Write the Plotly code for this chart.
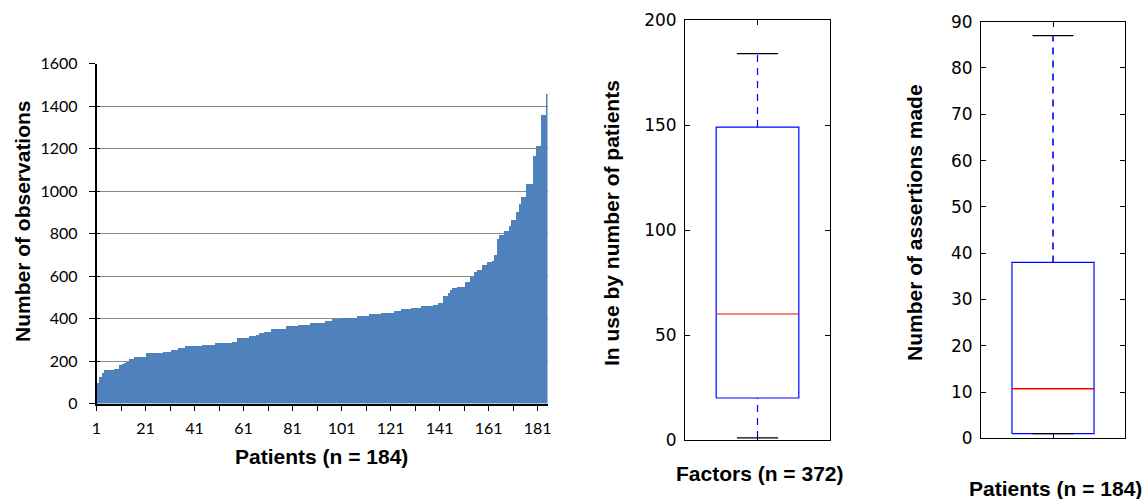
import plotly.graph_objects as go

W, H = 1148, 499

# ---- Data ----
observations = [
    98, 126, 145, 161, 161, 161, 161, 167, 167, 183,
    190, 194, 200, 213, 213, 222, 222, 222, 222, 222,
    239, 239, 239, 239, 239, 239, 239, 247, 247, 247,
    255, 255, 255, 263, 263, 263, 272, 272, 272, 272,
    272, 272, 272, 278, 278, 278, 278, 278, 286, 286,
    286, 286, 286, 286, 286, 294, 294, 310, 310, 310,
    310, 310, 318, 318, 318, 327, 333, 333, 341, 341,
    341, 355, 355, 355, 355, 355, 355, 365, 365, 365,
    365, 365, 373, 373, 373, 373, 373, 382, 382, 382,
    382, 382, 382, 390, 390, 390, 398, 398, 398, 406,
    406, 406, 406, 406, 406, 406, 414, 414, 414, 414,
    414, 422, 422, 422, 422, 422, 430, 430, 430, 430,
    430, 437, 437, 437, 446, 446, 446, 446, 454, 454,
    454, 454, 462, 462, 462, 462, 462, 467, 467, 475,
    475, 506, 506, 521, 537, 547, 547, 550, 550, 550,
    573, 573, 600, 600, 619, 631, 631, 652, 652, 667,
    667, 675, 699, 777, 793, 793, 816, 816, 840, 864,
    864, 903, 942, 975, 975, 1033, 1033, 1033, 1165, 1216,
    1216, 1358, 1358, 1460,
]
patients = list(range(1, len(observations) + 1))
bar_tick_labels = ["1", "21", "41", "61", "81", "101", "121", "141", "161", "181"]
bar_y_ticks = [0, 200, 400, 600, 800, 1000, 1200, 1400, 1600]

# box stats: lower whisker, Q1, median, Q3, upper whisker
factors_stats = [1, 20, 60, 149, 184]
assertions_stats = [1, 1, 10.7, 38, 87]
factors_y_ticks = [0, 50, 100, 150, 200]
assertions_y_ticks = [0, 10, 20, 30, 40, 50, 60, 70, 80, 90]

BAR_COLOR = "#4f81bd"
TITLE_FONT = dict(family="Liberation Sans, Arial, sans-serif", size=21, color="black", weight="bold")


def px_x(p):
    return p / W


def px_y(p):
    return 1 - p / H


fig = go.Figure()

# ---- Bar chart ----
fig.add_trace(go.Bar(
    x=patients, y=observations, marker=dict(color=BAR_COLOR, line=dict(width=0)),
    xaxis="x", yaxis="y", showlegend=False, hoverinfo="x+y",
))

# x tick positions at the left edge of each 10th patient
tick_pos = [p - 0.5 for p in patients[::10]]
tick_txt = [str(p) if str(p) in bar_tick_labels else "" for p in patients[::10]]


def box_traces(stats, xa, ya, lw_=1.2):
    lw, q1, med, q3, uw = stats
    c, hb, hc = 1.0, 0.285, 0.142
    blue, red = "#0000ff", "#ff0000"
    tr = []
    tr.append(go.Scatter(x=[c, c], y=[q3, uw], mode="lines",
                         line=dict(color=blue, width=lw_, dash="7px,6px")))
    tr.append(go.Scatter(x=[c, c], y=[lw, q1], mode="lines",
                         line=dict(color=blue, width=lw_, dash="7px,6px")))
    tr.append(go.Scatter(x=[c - hb, c + hb, c + hb, c - hb, c - hb], y=[q1, q1, q3, q3, q1],
                         mode="lines", line=dict(color=blue, width=1.2)))
    tr.append(go.Scatter(x=[c - hc, c + hc], y=[uw, uw], mode="lines",
                         line=dict(color="black", width=1.2)))
    tr.append(go.Scatter(x=[c - hc, c + hc], y=[lw, lw], mode="lines",
                         line=dict(color="black", width=1.2)))
    tr.append(go.Scatter(x=[c - hb, c + hb], y=[med, med], mode="lines",
                         line=dict(color=red, width=lw_)))
    for t in tr:
        t.update(xaxis=xa, yaxis=ya, showlegend=False, hoverinfo="skip")
        fig.add_trace(t)


box_traces(factors_stats, "x2", "y2", 1.2)
box_traces(assertions_stats, "x3", "y3", 1.6)

box_tick_font = dict(family="DejaVu Sans", size=17, color="black")

box_x = dict(range=[0.5, 1.5], tickvals=[1], ticktext=[""], ticks="inside", ticklen=5,
             tickcolor="black", showline=True, linecolor="black", linewidth=1, mirror="ticks",
             showgrid=False, zeroline=False, fixedrange=True, automargin=False)

bar_tick_font = dict(family="Lato, Carlito, sans-serif", size=16, color="black")

fig.update_layout(
    template="none",
    width=W, height=H,
    autosize=False,
    margin=dict(l=0, r=0, t=0, b=0, pad=0),
    paper_bgcolor="white", plot_bgcolor="white",
    bargap=0,
    showlegend=False,
    font=dict(family="Liberation Sans", color="black"),
    xaxis=dict(
        domain=[px_x(96.5), px_x(547.5)], range=[0.5, len(observations) + 0.5],
        tickvals=tick_pos, ticktext=tick_txt, ticks="outside", ticklen=6, tickcolor="black",
        showline=True, linecolor="black", linewidth=1.5, showgrid=False, zeroline=False,
        tickfont=bar_tick_font, ticklabelstandoff=4, anchor="y", automargin=False,
    ),
    yaxis=dict(
        domain=[px_y(403.5), px_y(63.5)], range=[0, 1600],
        tickvals=bar_y_ticks, ticks="outside", ticklen=6, tickcolor="black",
        showline=True, linecolor="black", linewidth=1.5,
        showgrid=True, gridcolor="#8a8a8a", gridwidth=1, zeroline=False,
        tickfont=bar_tick_font, ticklabelstandoff=8, anchor="x", automargin=False,
    ),
    # overlay axis giving the short inward part of the crossing y ticks
    yaxis4=dict(
        overlaying="y", range=[0, 1600], tickvals=bar_y_ticks, ticktext=[""] * len(bar_y_ticks),
        ticks="inside", ticklen=3, tickcolor="black", showline=False, showgrid=False,
        zeroline=False, anchor="x", side="left", automargin=False,
    ),
    xaxis2=dict(domain=[px_x(685), px_x(830)], anchor="y2", **box_x),
    yaxis2=dict(
        domain=[px_y(440), px_y(20)], range=[0, 200], tickvals=factors_y_ticks,
        ticks="inside", ticklen=5, tickcolor="black", showline=True, linecolor="black",
        linewidth=1, mirror="ticks", showgrid=False, zeroline=False, tickfont=box_tick_font,
        anchor="x2", fixedrange=True, ticklabelstandoff=4, automargin=False,
    ),
    xaxis3=dict(domain=[px_x(981), px_x(1125)], anchor="y3", **box_x),
    yaxis3=dict(
        domain=[px_y(438.3), px_y(21.7)], range=[0, 90], tickvals=assertions_y_ticks,
        ticks="inside", ticklen=5, tickcolor="black", showline=True, linecolor="black",
        linewidth=1, mirror="ticks", showgrid=False, zeroline=False, tickfont=box_tick_font,
        anchor="x3", fixedrange=True, ticklabelstandoff=4, automargin=False,
    ),
)

# invisible trace so the overlay axis is drawn
fig.add_trace(go.Scatter(x=[patients[0]], y=[observations[0]], xaxis="x", yaxis="y4",
                         mode="markers", marker=dict(opacity=0), showlegend=False,
                         hoverinfo="skip"))

titles = [
    ("Number of observations", 22, 221, -90),
    ("Patients (n = 184)", 321, 456, 0),
    ("In use by number of patients", 611, 223, -90),
    ("Factors (n = 372)", 759, 473, 0),
    ("Number of assertions made", 914, 223, -90),
    ("Patients (n = 184)", 1055, 488, 0),
]
for text, cx, cy, ang in titles:
    fig.add_annotation(text=text, x=px_x(cx), y=px_y(cy), xref="paper", yref="paper",
                       xanchor="center", yanchor="middle", showarrow=False,
                       textangle=ang, font=TITLE_FONT)

fig.write_html(
    "out.html",
    config={"displayModeBar": False},
    post_script="document.body.style.margin='0px';document.body.style.overflow='hidden';",
)
